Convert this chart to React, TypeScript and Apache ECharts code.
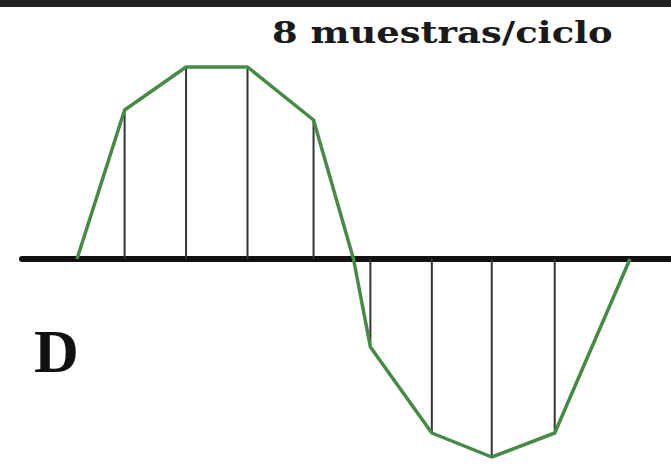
import React, { useEffect, useRef } from "react";
import * as echarts from "echarts";

// Phase (degrees) of each sample along one cycle
const samplePhases = [31, 71, 111, 154, 191, 231, 270, 311];
// Sampled amplitudes (normalized, peak ≈ 1)
const sampleValues = [0.745, 0.96, 0.96, 0.695, -0.44, -0.87, -0.99, -0.87];
// Zero crossings of the waveform
const zeroPhases = [0, 180, 360];

const titleText = "8 muestras/ciclo";
const panelLabel = "D";

export default function App() {
  const ref = useRef<HTMLDivElement>(null);

  useEffect(() => {
    document.body.style.margin = "0";
    if (!ref.current) return;
    const chart = echarts.init(ref.current, null, { renderer: "svg" });

    const samples = samplePhases.map((p, i) => [p, sampleValues[i]]);
    const curve = [...samples, ...zeroPhases.map((p) => [p, 0])].sort(
      (a, b) => a[0] - b[0]
    );

    chart.setOption({
      animation: false,
      backgroundColor: "#ffffff",
      grid: { left: 22, right: 0, top: 59, bottom: 6 },
      xAxis: {
        type: "value",
        min: -35.8,
        max: 386.7,
        axisLine: { show: true, onZero: true, lineStyle: { color: "#111111", width: 6 } },
        axisTick: { show: false },
        axisLabel: { show: false },
        splitLine: { show: false },
      },
      yAxis: {
        type: "value",
        min: -1,
        max: 1,
        axisLine: { show: false },
        axisTick: { show: false },
        axisLabel: { show: false },
        splitLine: { show: false },
      },
      series: [
        {
          type: "custom",
          data: samples,
          z: 2,
          renderItem: (params: any, api: any) => {
            const x = api.value(0);
            const y = api.value(1);
            const p0 = api.coord([x, 0]);
            const p1 = api.coord([x, y]);
            return {
              type: "line",
              shape: { x1: p0[0], y1: p0[1], x2: p1[0], y2: p1[1] },
              style: { stroke: "#333333", lineWidth: 2 },
            };
          },
        },
        {
          type: "line",
          data: curve,
          z: 3,
          symbol: "none",
          lineStyle: { color: "#468a46", width: 3.5 },
        },
      ],
      graphic: [
        {
          type: "rect",
          shape: { x: 0, y: 0, width: 671, height: 7 },
          style: { fill: "#222222" },
        },
        {
          type: "text",
          x: 272,
          y: 32,
          scaleX: 1.23,
          style: {
            text: titleText,
            fontFamily: "DejaVu Serif",
            fontWeight: "bold",
            fontSize: 30,
            fill: "#1a1a1a",
            textAlign: "left",
            textVerticalAlign: "middle",
            align: "left",
            verticalAlign: "middle",
          },
        },
        {
          type: "text",
          x: 34,
          y: 351,
          style: {
            text: panelLabel,
            fontFamily: "Liberation Serif",
            fontWeight: "bold",
            fontSize: 62,
            fill: "#111111",
            textAlign: "left",
            textVerticalAlign: "middle",
            align: "left",
            verticalAlign: "middle",
          },
        },
      ],
    });

    return () => chart.dispose();
  }, []);

  return <div ref={ref} style={{ width: 671, height: 465 }} />;
}
